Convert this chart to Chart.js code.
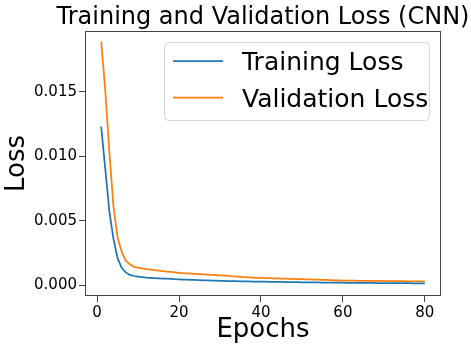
<!DOCTYPE html>
<html>
<head>
<meta charset="utf-8">
<script src="https://cdn.jsdelivr.net/npm/chart.js@4"></script>
<style>
  html, body { margin: 0; padding: 0; background: #fff; }
  #wrap { width: 471px; height: 350px; }
</style>
</head>
<body>
<div id="wrap"><canvas id="lossChart" width="471" height="350"></canvas></div>
<script>
    'use strict';

    const epochs = Array.from({ length: 80 }, (_, i) => i + 1);

    const trainingLoss = [
        0.0123, 0.0090, 0.0057, 0.0036, 0.0021, 0.00135, 0.0010, 0.00080, 0.00072, 0.00067,
        0.00063, 0.00060, 0.00058, 0.00056, 0.00054, 0.00052, 0.00051, 0.00049, 0.00047, 0.00046,
        0.00044, 0.00043, 0.00042, 0.00041, 0.00040, 0.00039, 0.00038, 0.00037, 0.00036, 0.00035,
        0.00034, 0.00033, 0.00033, 0.00032, 0.00031, 0.00031, 0.00030, 0.00029, 0.00029, 0.00028,
        0.00028, 0.00027, 0.00027, 0.00026, 0.00026, 0.00025, 0.00025, 0.00024, 0.00024, 0.00023,
        0.00023, 0.00023, 0.00022, 0.00022, 0.00021, 0.00021, 0.00021, 0.00020, 0.00020, 0.00020,
        0.00019, 0.00019, 0.00019, 0.00018, 0.00018, 0.00018, 0.00018, 0.00017, 0.00017, 0.00017,
        0.00017, 0.00016, 0.00016, 0.00016, 0.00016, 0.00016, 0.00015, 0.00015, 0.00015, 0.00015
    ];

    const validationLoss = [
        0.0189, 0.0151, 0.0103, 0.0061, 0.0037, 0.0026, 0.0019, 0.00162, 0.00143, 0.00136,
        0.00131, 0.00126, 0.00122, 0.00118, 0.00114, 0.00110, 0.00106, 0.00103, 0.00100, 0.00097,
        0.00094, 0.00092, 0.00090, 0.00088, 0.00086, 0.00084, 0.00082, 0.00080, 0.00078, 0.00076,
        0.00074, 0.00072, 0.00070, 0.00068, 0.00066, 0.00064, 0.00062, 0.00060, 0.00058, 0.00057,
        0.00056, 0.00055, 0.00054, 0.00053, 0.00052, 0.00051, 0.00050, 0.00049, 0.00048, 0.00047,
        0.00046, 0.00045, 0.00044, 0.00043, 0.00042, 0.00041, 0.00040, 0.00039, 0.00038, 0.00037,
        0.00037, 0.00036, 0.00036, 0.00035, 0.00035, 0.00034, 0.00034, 0.00033, 0.00035, 0.00034,
        0.00033, 0.00033, 0.00032, 0.00032, 0.00032, 0.00031, 0.00031, 0.00031, 0.00031, 0.00031
    ];

    const xTicks = [0, 20, 40, 60, 80];
    const yTicks = [0, 0.005, 0.010, 0.015];

    const chartTitle = 'Training and Validation Loss (CNN)';
    const FONT = "'DejaVu Sans', sans-serif";
    const AXIS_COLOR = '#444';

    // full box around plot area (matplotlib spines)
    const frame = {
        id: 'frame',
        afterDatasetsDraw(chart) {
            const { ctx, chartArea: a } = chart;
            ctx.save();
            ctx.strokeStyle = AXIS_COLOR;
            ctx.lineWidth = 1;
            ctx.strokeRect(a.left + 0.5, a.top + 0.5, a.right - a.left - 1, a.bottom - a.top - 1);
            ctx.restore();
        }
    };

    // title centred over the axes, not the canvas
    const axesTitle = {
        id: 'axesTitle',
        afterDraw(chart) {
            const { ctx, chartArea: a } = chart;
            ctx.save();
            ctx.font = '24px ' + FONT;
            ctx.fillStyle = '#000';
            ctx.textAlign = 'center';
            ctx.textBaseline = 'alphabetic';
            ctx.fillText(chartTitle, (a.left + a.right) / 2, 24);
            ctx.restore();
        }
    };

    // legend drawn inside the plot, upper right
    const innerLegend = {
        id: 'innerLegend',
        afterDraw(chart) {
            const ctx = chart.ctx;
            const x0 = 164.5, y0 = 42.5, w = 265, h = 78, r = 4;
            ctx.save();
            ctx.beginPath();
            ctx.roundRect(x0, y0, w, h, r);
            ctx.fillStyle = 'rgba(255,255,255,0.8)';
            ctx.fill();
            ctx.strokeStyle = '#d6d6d6';
            ctx.lineWidth = 1;
            ctx.stroke();
            ctx.font = '25px ' + FONT;
            ctx.textBaseline = 'alphabetic';
            chart.data.datasets.forEach((ds, i) => {
                const y = 61 + i * 36.5;
                ctx.strokeStyle = ds.borderColor;
                ctx.lineWidth = 1.75;
                ctx.beginPath();
                ctx.moveTo(173, y);
                ctx.lineTo(223, y);
                ctx.stroke();
                ctx.fillStyle = '#000';
                ctx.fillText(ds.label, 242, y + 9);
            });
            ctx.restore();
        }
    };

    function toPoints(values) {
        return epochs.map((e, i) => ({ x: e, y: values[i] }));
    }

    new Chart(document.getElementById('lossChart').getContext('2d'), {
        type: 'line',
        data: {
            datasets: [
                {
                    label: 'Training Loss',
                    data: toPoints(trainingLoss),
                    borderColor: '#1f77b4',
                    borderWidth: 1.75,
                    pointRadius: 0,
                    tension: 0
                },
                {
                    label: 'Validation Loss',
                    data: toPoints(validationLoss),
                    borderColor: '#ff7f0e',
                    borderWidth: 1.75,
                    pointRadius: 0,
                    tension: 0
                }
            ]
        },
        options: {
            responsive: false,
            animation: false,
            layout: { padding: { left: 0, right: 30, top: 31, bottom: 0 } },
            plugins: {
                legend: { display: false },
                tooltip: { enabled: false },
                title: { display: false }
            },
            scales: {
                x: {
                    type: 'linear',
                    min: -2.95,
                    max: 83.95,
                    afterBuildTicks: s => { s.ticks = xTicks.map(v => ({ value: v })); },
                    afterFit: s => { s.height = 54; },
                    grid: { display: true, drawOnChartArea: false, drawTicks: true, tickLength: 6, tickColor: AXIS_COLOR },
                    border: { display: false },
                    ticks: { color: '#000', padding: 2, maxRotation: 0, font: { family: FONT, size: 15 } },
                    title: {
                        display: true,
                        text: 'Epochs',
                        color: '#000',
                        font: { family: FONT, size: 26, lineHeight: 1 },
                        padding: { top: 0, bottom: 7 }
                    }
                },
                y: {
                    type: 'linear',
                    min: -0.00083,
                    max: 0.0197,
                    afterBuildTicks: s => { s.ticks = yTicks.map(v => ({ value: v })); },
                    afterFit: s => { s.width = 85; },
                    grid: { display: true, drawOnChartArea: false, drawTicks: true, tickLength: 6, tickColor: AXIS_COLOR },
                    border: { display: false },
                    ticks: {
                        color: '#000',
                        padding: 2,
                        font: { family: FONT, size: 15 },
                        callback: v => v.toFixed(3)
                    },
                    title: {
                        display: true,
                        text: 'Loss',
                        color: '#000',
                        font: { family: FONT, size: 26, lineHeight: 1 },
                        padding: { top: 4, bottom: 0 }
                    }
                }
            }
        },
        plugins: [frame, axesTitle, innerLegend]
    });
</script>
</body>
</html>
